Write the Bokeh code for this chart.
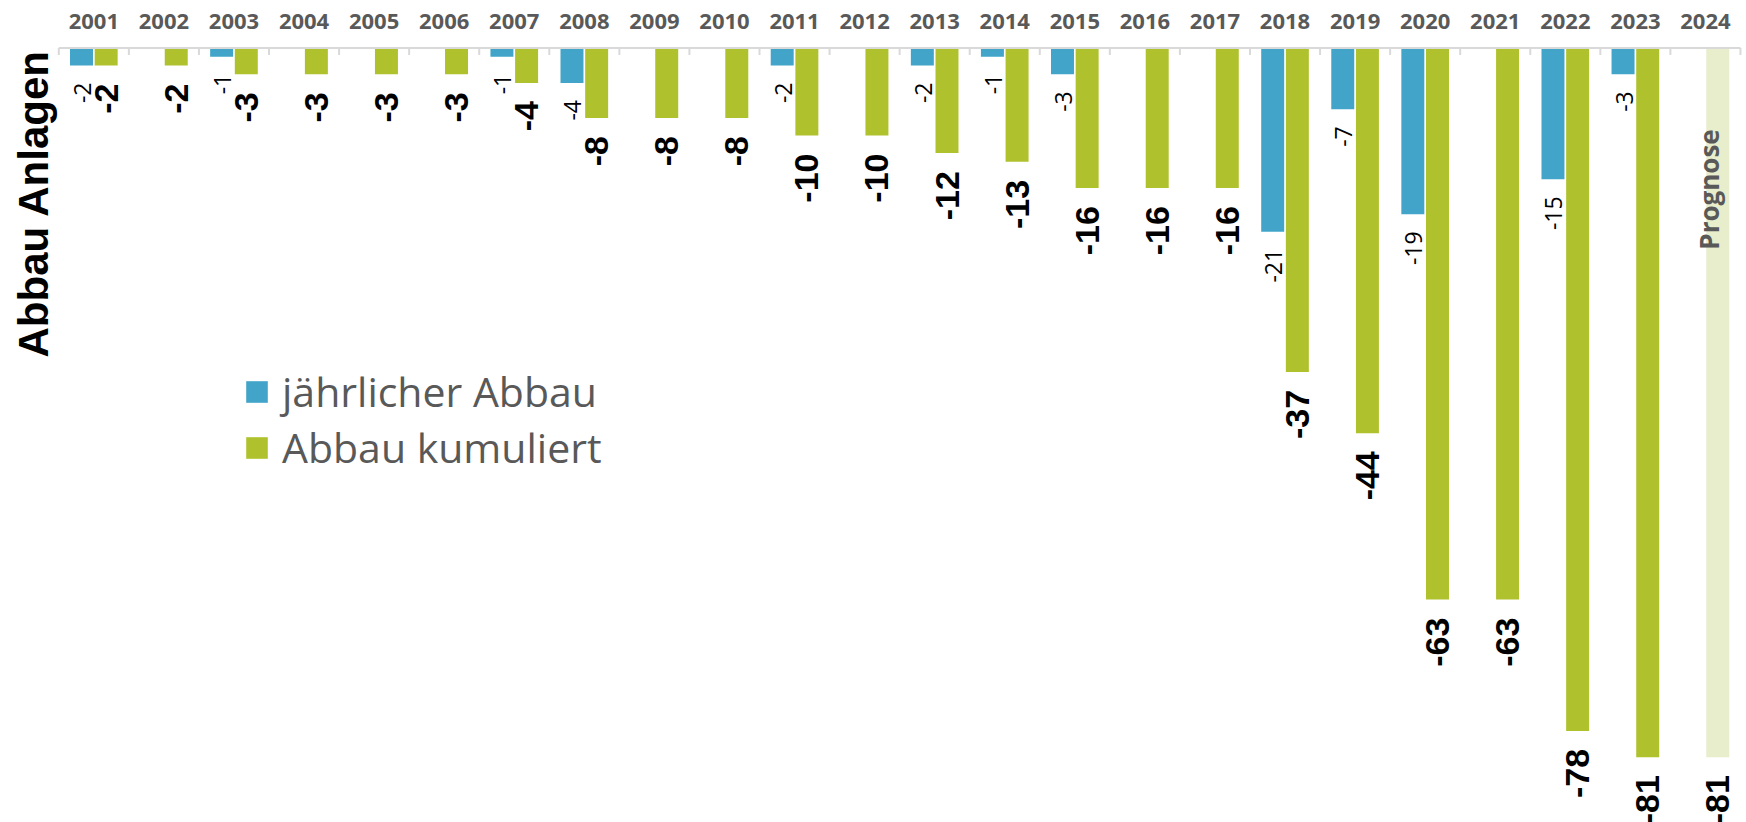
import math
import numpy as np
from bokeh.plotting import figure
from bokeh.models import Range1d, ColumnDataSource, Legend, LegendItem, Label
from bokeh.core.properties import value
from bokeh.embed import file_html
from bokeh.resources import INLINE

# ---------------- data ----------------
years = ["2001", "2002", "2003", "2004", "2005", "2006", "2007", "2008", "2009", "2010",
         "2011", "2012", "2013", "2014", "2015", "2016", "2017", "2018", "2019", "2020",
         "2021", "2022", "2023", "2024"]
annual = [-2, 0, -1, 0, 0, 0, -1, -4, 0, 0, -2, 0, -2, -1, -3, 0, 0, -21, -7, -19, 0, -15, -3]
cumulative = [-2, -2, -3, -3, -3, -3, -4, -8, -8, -8, -10, -10, -12, -13, -16, -16, -16,
              -37, -44, -63, -63, -78, -81]
forecast_year = ["2024"]
forecast = [-81]

series_names = ["jährlicher Abbau", "Abbau kumuliert"]
forecast_text = "Prognose"
axis_title = "Abbau Anlagen"

# ---------------- styling ----------------
BLUE = "#41A4C8"
GREEN = "#AFC22E"
PALE = "#E8EDCB"
GREY_TXT = "#595959"
AXIS = "#D9D9D9"

W, H = 1746, 822
X0_PX, X_UNIT = 58.3, 70.07   # pixel of category boundary 0, px per category
Y0_PX, Y_UNIT = 47.5, 8.755   # pixel (from top) of value 0, px per unit

x_range = Range1d(-X0_PX / X_UNIT, (W - X0_PX) / X_UNIT)
y_range = Range1d(-(H - Y0_PX) / Y_UNIT, Y0_PX / Y_UNIT)

p = figure(width=W, height=H, x_range=x_range, y_range=y_range,
           x_axis_type=None, y_axis_type=None, toolbar_location=None,
           output_backend="svg", min_border=0, min_border_left=0, min_border_right=0,
           min_border_top=0, min_border_bottom=0, outline_line_color=None,
           background_fill_color="white", border_fill_color="white")

n = len(cumulative)
OFF, BW = 0.176, 0.328
cat = np.arange(len(years)) + 0.5
xb = cat[:n] - OFF
xg = cat[:n] + OFF
xf = np.array([years.index(y) for y in forecast_year]) + 0.5 + OFF

src_b = ColumnDataSource(dict(x=xb, top=annual))
src_g = ColumnDataSource(dict(x=xg, top=cumulative))
src_f = ColumnDataSource(dict(x=xf, top=forecast))

rb = p.vbar(x="x", top="top", bottom=0, width=BW, source=src_b, fill_color=BLUE, line_color=None)
rg = p.vbar(x="x", top="top", bottom=0, width=BW, source=src_g, fill_color=GREEN, line_color=None)
rf = p.vbar(x="x", top="top", bottom=0, width=BW, source=src_f, fill_color=PALE, line_color=None)

# category axis line and ticks (Excel style, between categories)
bounds = np.arange(len(years) + 1)
p.segment(x0=[bounds[0]], x1=[bounds[-1]], y0=[0], y1=[0], line_color=AXIS, line_width=2)
p.segment(x0=bounds, x1=bounds, y0=[0] * len(bounds), y1=[-7 / Y_UNIT] * len(bounds),
          line_color=AXIS, line_width=2)

# year labels
p.text(x=cat, y=[0] * len(years), text=years, y_offset=-27,
       text_align="center", text_baseline="middle",
       text_font=value("Open Sans"), text_font_style="bold", text_font_size="22px",
       text_color=GREY_TXT)

# small labels for annual bars
lab_b = [(x, v) for x, v in zip(xb, annual) if v != 0]
p.text(x=[a for a, _ in lab_b], y=[b for _, b in lab_b], text=[str(b) for _, b in lab_b],
       angle=math.pi / 2, text_align="right", text_baseline="middle",
       y_offset=17, x_offset=1,
       text_font=value("Open Sans"), text_font_size="23px", text_color="black")

# big labels for cumulative bars (+ forecast)
big_x = list(xg) + list(xf)
big_v = list(cumulative) + list(forecast)
p.text(x=big_x, y=big_v, text=[str(v) for v in big_v],
       angle=math.pi / 2, text_align="right", text_baseline="middle", y_offset=18,
       text_font=value("Liberation Sans"), text_font_style="bold", text_font_size="34px",
       text_color="black")

# forecast annotation
p.add_layout(Label(x=float(xf[0]), y=H - 189, x_units="data", y_units="screen",
                   x_offset=-9,
                   text=forecast_text, angle=math.pi / 2, text_align="center",
                   text_baseline="middle", text_font="Open Sans", text_font_style="bold",
                   text_font_size="26px", text_color=GREY_TXT))

# axis title
p.add_layout(Label(x=33, y=H - 203, x_units="screen", y_units="screen",
                   text=axis_title, angle=math.pi / 2, text_align="center",
                   text_baseline="middle", text_font="Liberation Sans", text_font_style="bold",
                   text_font_size="42px", text_color="black"))

legend = Legend(items=[LegendItem(label=series_names[0], renderers=[rb]),
                       LegendItem(label=series_names[1], renderers=[rg])],
                location=(243, 347), glyph_width=27, glyph_height=27,
                label_text_font="Open Sans", label_text_font_size="41px",
                label_text_color=GREY_TXT, label_standoff=12, spacing=0,
                padding=0, margin=0, background_fill_alpha=0, border_line_alpha=0)
p.add_layout(legend)

open("out.html", "w").write(file_html(p, INLINE))
